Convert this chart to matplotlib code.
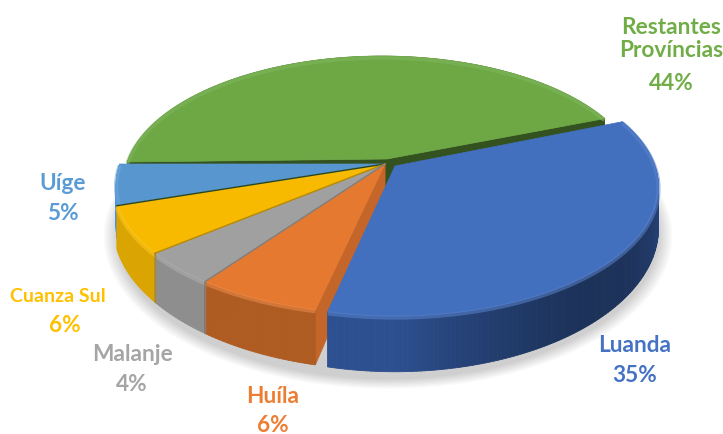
import numpy as np
import matplotlib
matplotlib.use('Agg')
import matplotlib.pyplot as plt
from matplotlib.colors import to_rgb

plt.rcParams['font.family'] = ['Lato', 'DejaVu Sans']

names = ['Restantes\nProvíncias', 'Luanda', 'Huíla', 'Malanje', 'Cuanza Sul', 'Uíge']
values = [43.9, 34.6, 6.4, 4.1, 5.9, 5.1]
colors = ['#70AD47', '#4472C4', '#ED7D31', '#A5A5A5', '#FFC000', '#5B9BD5']
side_colors = ['#34521F', '#2D5090', '#AE5C22', '#8E8E8E', '#DBA400', '#4A8FD8']
cut_colors = ['#34521F', '#1F3864', '#C4662A', '#7F7F7F', '#B88A00', '#24462A']

# slice placement on the page: tip, rim centre, rim scales
tip_x = [387, 395, 385, 385, 385, 385]
tip_y = [160, 167, 165, 165, 165, 165]
rim_x = [382, 395, 385, 385, 385, 385]
rim_y = [163, 167, 165, 165, 165, 165]
rscale = [0.95, 0.97, 1.0, 1.0, 1.0, 0.99]
yscale = [0.98, 1.0, 1.0, 1.0, 1.0, 1.0]

# label centres, name then percent
name_xy = [(671, 39), (635, 346), (273, 397), (132, 355), (58, 297), (63, 184)]
pct_xy = [(671, 84), (635, 376), (273, 426), (132, 385), (65, 326), (63, 214)]
name_size = [16.3, 16.3, 16.3, 16.3, 14.0, 16.3]

start_angle = 180.0
RX, RY, K, DEPTH = 268.0, 125.6, 0.163, 39.0


def rim(theta, i, z=0.0):
    # angle on the disc to page pixels, with some perspective
    u = np.cos(theta)
    v = np.sin(theta)
    w = 1 + K * v
    x = rim_x[i] + rscale[i] * RX * u / w
    y = rim_y[i] - yscale[i] * RY * v / w + z * DEPTH / w**2
    return x, y


def mix(c, other, t):
    c, other = np.array(to_rgb(c)), np.array(to_rgb(other))
    return tuple(c * (1 - t) + other * t)


def shade(theta):
    # side wall goes darkest toward lower right
    deg = (np.degrees(theta) + 180) % 360 - 180
    if -100 <= deg <= 10:
        return 1 - 0.38 * np.clip(np.cos(2 * np.radians(deg + 45)), 0, 1)
    return 1.0


fig = plt.figure(figsize=(7.23, 4.35), dpi=100)
ax = fig.add_axes([0, 0, 1, 1])
ax.set_xlim(0, 723)
ax.set_ylim(435, 0)
ax.axis('off')

# soft ground shadow
t = np.linspace(0, 2 * np.pi, 240)
for grow in np.linspace(1.0, 1.045, 8):
    u, v = grow * np.cos(t), grow * np.sin(t)
    w = 1 + K * v
    ax.fill(388 + RX * u / w, 168 - RY * v / w + DEPTH * 1.12 / w**2,
            color='#000000', alpha=0.022, lw=0, zorder=1)

fractions = np.array(values) / sum(values)
edges = np.radians(start_angle - 360 * np.concatenate([[0], np.cumsum(fractions)]))

# back to front, the big blue slice sits on top of everything
for z, i in enumerate([0, 5, 4, 3, 2, 1]):
    a0, a1 = edges[i], edges[i + 1]
    arc = np.linspace(a0, a1, max(int(abs(a1 - a0) * 70), 8))
    z = z + 2

    # cut faces, only green and orange show one
    if i in (0, 2):
        for a in (a0, a1):
            x1, y1 = rim(a, i)
            x2, y2 = rim(a, i, z=1)
            ax.fill([tip_x[i], x1, x2, tip_x[i]], [tip_y[i], y1, y2, tip_y[i] + DEPTH],
                    color=cut_colors[i], lw=0.4, zorder=z)

    # outer wall as small strips
    for j in range(len(arc) - 1):
        xa, ya = rim(arc[j], i)
        xb, yb = rim(arc[j + 1], i)
        xc, yc = rim(arc[j + 1], i, z=1)
        xd, yd = rim(arc[j], i, z=1)
        col = tuple(np.array(to_rgb(side_colors[i])) * shade(arc[j]))
        ax.fill([xa, xb, xc, xd], [ya, yb, yc, yd], color=col, ec=col, lw=0.6, zorder=z)

    # top face
    xs, ys = rim(arc, i)
    top = mix(colors[i], '#000000', 0.03)
    ax.fill(np.r_[tip_x[i], xs], np.r_[tip_y[i], ys], color=top, lw=0.5, zorder=z)

    # rounded rim
    ax.plot(xs, ys + 1.5, color=mix(colors[i], '#FFFFFF', 0.12), lw=3, alpha=0.55,
            solid_capstyle='butt', zorder=z)

    # thin dark seam against the slice behind
    if i in (2, 3, 4):
        seam = cut_colors[i + 1]
        xe, ye = rim(a1, i)
        ax.plot([tip_x[i], xe], [tip_y[i], ye], color=seam, lw=1.0, zorder=z)
        if i != 4:
            xb, yb = rim(a1, i, z=1)
            ax.plot([xe, xb], [ye, yb], color=seam, lw=1.0, zorder=z)

for i in range(len(values)):
    ax.text(name_xy[i][0], name_xy[i][1], names[i], color=colors[i], fontsize=name_size[i],
            fontweight='bold', ha='center', va='center', linespacing=1.1, zorder=20)
    ax.text(pct_xy[i][0], pct_xy[i][1], f'{values[i]:.0f}%', color=colors[i], fontsize=16.3,
            fontweight='bold', ha='center', va='center', zorder=20)

fig.savefig('out.png', dpi=100)
